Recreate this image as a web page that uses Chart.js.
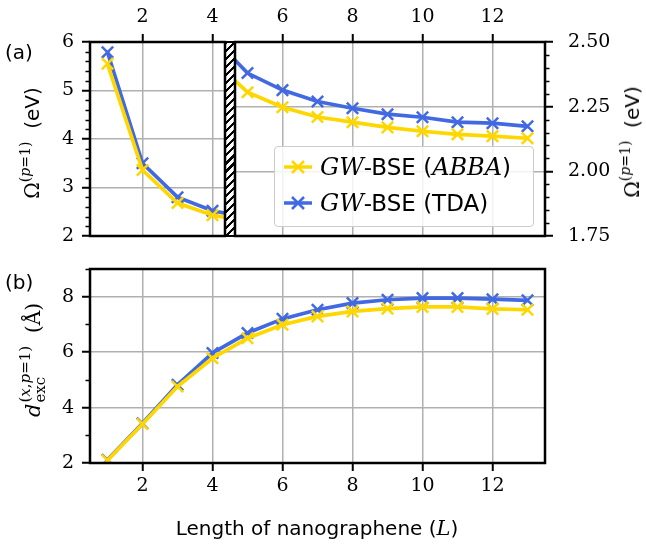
<!DOCTYPE html>
<html>
<head>
<meta charset="utf-8">
<script src="https://cdn.jsdelivr.net/npm/chart.js@4.4.1/dist/chart.umd.min.js"></script>
<style>
  body { margin: 0; background: #fff; }
  #wrap { position: relative; width: 646px; height: 545px; overflow: hidden; background: #fff; }
  canvas { position: absolute; }
  .lbl { position: absolute; font-family: 'DejaVu Sans'; font-size: 20px; line-height: 20px; color: #000; white-space: nowrap; }
  .rot { transform: translate(-50%, -50%) rotate(-90deg); }
  .ctr { transform: translate(-50%, -50%); }
  .serif { font-family: 'DejaVu Serif'; }
  .it { font-family: 'DejaVu Serif'; font-style: italic; font-size: 21px; }
  .sup { font-family: 'DejaVu Serif'; font-size: 14px; position: relative; top: -9px; }
  .stack { display: inline-flex; flex-direction: column; vertical-align: middle; font-family: 'DejaVu Serif'; font-size: 15px; line-height: 15px; position: relative; top: -1px; margin-left: 1px; }
  #hatch { position: absolute; left: 224px; top: 41px; width: 12px; height: 196px; box-sizing: border-box;
           border-top: 2px solid #000; border-bottom: 2px solid #000;
           background: repeating-linear-gradient(135deg, #000 0 2.2px, #fff 2.2px 5.7px); }
  #legend { position: absolute; left: 274px; top: 146px; width: 258px; height: 79px;
            border: 1px solid #cccccc; border-radius: 4px; background: rgba(255,255,255,0.85); z-index: 5; }
  #legend .lbl { position: static; font-size: 23px; line-height: 24px; }
  #legend .it { font-size: 24px; }
  .row { position: absolute; left: 8px; height: 30px; display: flex; align-items: center; }
  .row svg { margin-right: 7px; }
</style>
</head>
<body>
<div id="wrap">
  <div id="hatch"></div>
  <canvas id="topLeft" width="240" height="260" style="left:0;top:0"></canvas>
  <canvas id="topRight" width="646" height="260" style="left:0;top:0"></canvas>
  <canvas id="bottom" width="646" height="295" style="left:0;top:250px"></canvas>

  <div class="lbl" style="left:5px;top:42px">(a)</div>
  <div class="lbl" style="left:5px;top:272px">(b)</div>

  <div class="lbl rot" style="left:33px;top:143px"><span class="serif">Ω</span><span class="sup">(<i>p</i>=1)</span>&nbsp;&nbsp;(eV)</div>
  <div class="lbl rot" style="left:633px;top:142px"><span class="serif">Ω</span><span class="sup">(<i>p</i>=1)</span>&nbsp;&nbsp;(eV)</div>
  <div class="lbl rot" style="left:34px;top:360px"><span class="it">d</span><span class="stack"><span>(<i>x</i>,<i>p</i>=1)</span><span>exc</span></span>&nbsp;&nbsp;<span class="serif">(Å)</span></div>
  <div class="lbl ctr" style="left:317px;top:528px">Length of nanographene (<span class="it">L</span>)</div>

  <div id="legend">
    <div class="row" style="top:5px">
      <svg width="30" height="20"><line x1="1" y1="10" x2="29" y2="10" stroke="#FFD700" stroke-width="3.5"/><path d="M9 4 L21 16 M21 4 L9 16" stroke="#FFD700" stroke-width="2.5"/></svg>
      <span class="lbl"><span class="it">GW</span>-BSE (<span class="it">ABBA</span>)</span>
    </div>
    <div class="row" style="top:41px">
      <svg width="30" height="20"><line x1="1" y1="10" x2="29" y2="10" stroke="#4169E1" stroke-width="3.5"/><path d="M9 4 L21 16 M21 4 L9 16" stroke="#4169E1" stroke-width="2.5"/></svg>
      <span class="lbl"><span class="it">GW</span>-BSE (TDA)</span>
    </div>
  </div>
</div>

<script>
// nanographene length L
const sizes = [1, 2, 3, 4, 5, 6, 7, 8, 9, 10, 11, 12, 13]

// excitation energy Omega^(p=1) in eV
const omegaABBA = [5.55, 3.36, 2.68, 2.43, 2.306, 2.248, 2.21, 2.19, 2.17, 2.155, 2.143, 2.136, 2.128]
const omegaTDA = [5.79, 3.50, 2.80, 2.52, 2.38, 2.314, 2.27, 2.244, 2.221, 2.209, 2.19, 2.186, 2.174]

// exciton size d_exc in Angstrom
const dexcABBA = [2.10, 3.41, 4.76, 5.78, 6.50, 6.99, 7.29, 7.47, 7.57, 7.63, 7.63, 7.56, 7.53]
const dexcTDA = [2.12, 3.43, 4.82, 5.97, 6.69, 7.20, 7.53, 7.77, 7.89, 7.95, 7.95, 7.91, 7.87]

// tick labels
const topLeftXTicks = [2, 4]
const topRightXTicks = [6, 8, 10, 12]
const bottomXTicks = [2, 4, 6, 8, 10, 12]
const omegaLeftTicks = [2, 3, 4, 5, 6]
const omegaRightTicks = [1.75, 2.00, 2.25, 2.50]
const dexcTicks = [2, 4, 6, 8]

const gold = '#FFD700'
const blue = '#4169E1'
const tickFont = { family: 'DejaVu Serif', size: 19 }

const points = (ys) => sizes.map((L, i) => ({ x: L, y: ys[i] }))

const series = (label, ys, color) => ({
    label: label,
    data: points(ys),
    borderColor: color,
    backgroundColor: color,
    borderWidth: 3.7,
    pointStyle: 'crossRot',
    pointRadius: 8,
    pointBorderWidth: 2.5,
    tension: 0,
    clip: 0
})

// frame around the plot area (drawn over the lines, like matplotlib spines)
const frame = {
    id: 'frame',
    afterDatasetsDraw(chart) {
        const { ctx, chartArea: a } = chart
        ctx.save()
        ctx.strokeStyle = '#000'
        ctx.lineWidth = 2.5
        ctx.strokeRect(a.left, a.top, a.right - a.left, a.bottom - a.top)
        ctx.restore()
    }
}

// short minor ticks outside the frame
const minorTicks = {
    id: 'minorTicks',
    afterDraw(chart) {
        const ctx = chart.ctx
        const a = chart.chartArea
        Object.values(chart.scales).forEach(scale => {
            const step = scale.options.minorStep
            if (!step) return
            const majors = scale.ticks.map(t => t.value)
            const n = Math.round((scale.max - scale.min) / step)
            ctx.save()
            ctx.strokeStyle = '#000'
            ctx.lineWidth = 1.5
            for (let i = 0; i <= n; i++) {
                const v = scale.min + i * step
                if (majors.some(m => Math.abs(m - v) < 1e-6)) continue
                const p = Math.round(scale.getPixelForValue(v)) + 0.5
                ctx.beginPath()
                if (scale.position === 'left') { ctx.moveTo(a.left, p); ctx.lineTo(a.left - 4.5, p) }
                else if (scale.position === 'right') { ctx.moveTo(a.right, p); ctx.lineTo(a.right + 4.5, p) }
                ctx.stroke()
            }
            ctx.restore()
        })
    }
}

const gridOpts = { color: '#b0b0b0', lineWidth: 1.5, tickColor: '#000', tickWidth: 2, tickLength: 8 }

const fixTicks = (list) => (scale) => { scale.ticks = list.map(v => ({ value: v })) }

const xAxis = (position, min, max, list, height) => ({
    type: 'linear',
    position: position,
    min: min,
    max: max,
    afterBuildTicks: fixTicks(list),
    afterFit: s => { s.height = height; s.paddingLeft = 0; s.paddingRight = 0 },
    grid: gridOpts,
    border: { display: false },
    ticks: { font: tickFont, color: '#000', padding: position === 'top' ? 6 : 4, maxRotation: 0, autoSkip: false }
})

const yAxis = (position, min, max, list, width, minorStep, fmt, pad) => ({
    type: 'linear',
    position: position,
    min: min,
    max: max,
    minorStep: minorStep,
    afterBuildTicks: fixTicks(list),
    afterFit: s => { s.width = width; s.paddingTop = 0; s.paddingBottom = 0 },
    grid: gridOpts,
    border: { display: false },
    ticks: { font: tickFont, color: '#000', padding: pad, autoSkip: false, callback: fmt }
})

const baseOptions = (padding, scales) => ({
    responsive: false,
    animation: false,
    devicePixelRatio: 1,
    layout: { padding: padding },
    plugins: { legend: { display: false }, tooltip: { enabled: false } },
    scales: scales
})

// (a) left part: L up to the break, left energy axis
new Chart(document.getElementById('topLeft'), {
    type: 'line',
    data: { datasets: [series('GW-BSE (ABBA)', omegaABBA, gold), series('GW-BSE (TDA)', omegaTDA, blue)] },
    options: baseOptions({ left: 0, top: 0, right: 15, bottom: 24 }, {
        x: xAxis('top', 0.5, 4.357, topLeftXTicks, 42),
        y: yAxis('left', 2, 6, omegaLeftTicks, 90, 0.2, v => String(v), 8)
    }),
    plugins: [frame, minorTicks]
})

// (a) right part: after the break, right energy axis
new Chart(document.getElementById('topRight'), {
    type: 'line',
    data: { datasets: [series('GW-BSE (ABBA)', omegaABBA, gold), series('GW-BSE (TDA)', omegaTDA, blue)] },
    options: baseOptions({ left: 235, top: 0, right: 0, bottom: 24 }, {
        x: xAxis('top', 4.643, 13.5, topRightXTicks, 42),
        y: yAxis('right', 1.75, 2.5, omegaRightTicks, 101, 0.05, v => v.toFixed(2), 15)
    }),
    plugins: [frame, minorTicks]
})

// (b) exciton size
new Chart(document.getElementById('bottom'), {
    type: 'line',
    data: { datasets: [series('GW-BSE (ABBA)', dexcABBA, gold), series('GW-BSE (TDA)', dexcTDA, blue)] },
    options: baseOptions({ left: 0, top: 19, right: 101, bottom: 32 }, {
        x: xAxis('bottom', 0.5, 13.5, bottomXTicks, 50),
        y: yAxis('left', 2, 9, dexcTicks, 90, 1, v => String(v), 8)
    }),
    plugins: [frame, minorTicks]
})
</script>
</body>
</html>
